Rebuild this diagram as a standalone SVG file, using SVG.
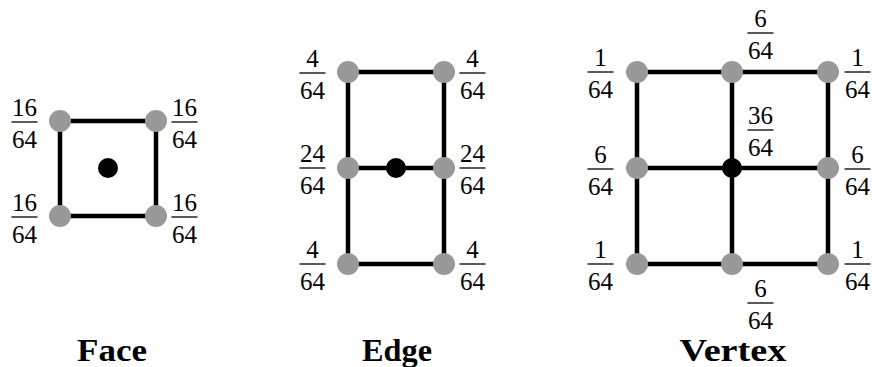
<svg xmlns="http://www.w3.org/2000/svg" width="872" height="367" viewBox="0 0 872 367">
<style>
.e{stroke:#000;stroke-width:4.5;fill:none}
.g{fill:#999}
.b{fill:#000}
.n{font-family:"Liberation Serif",serif;font-size:25px;text-anchor:middle;fill:#000}
.bar{stroke:#000;stroke-width:1.3}
.lbl{font-family:"Liberation Serif",serif;font-size:31px;font-weight:bold;text-anchor:middle;fill:#000}
</style>
<defs>
<g id="frac64"><line class="bar" x1="-13" y1="0" x2="13" y2="0"/><text class="n" x="0" y="26">64</text></g>
</defs>
<g id="connectors">
<rect class="e" x="60" y="121" width="96" height="95"/>
<rect class="e" x="348" y="72" width="96" height="192"/>
<line class="e" x1="348" y1="168" x2="444" y2="168"/>
<rect class="e" x="637" y="72" width="191" height="192"/>
<line class="e" x1="637" y1="168" x2="828" y2="168"/>
<line class="e" x1="732" y1="72" x2="732" y2="264"/>
</g>
<g id="face">
<circle class="g" cx="60" cy="121" r="11"/>
<circle class="g" cx="156" cy="121" r="11"/>
<circle class="g" cx="60" cy="216" r="11"/>
<circle class="g" cx="156" cy="216" r="11"/>
<circle class="b" cx="108" cy="168" r="10"/>
<g transform="translate(24.5,122)"><text class="n" x="0" y="-6">16</text><use href="#frac64"/></g>
<g transform="translate(184.5,122)"><text class="n" x="0" y="-6">16</text><use href="#frac64"/></g>
<g transform="translate(24.5,217)"><text class="n" x="0" y="-6">16</text><use href="#frac64"/></g>
<g transform="translate(184.5,217)"><text class="n" x="0" y="-6">16</text><use href="#frac64"/></g>
<text class="lbl" x="112" y="361" textLength="70" lengthAdjust="spacingAndGlyphs">Face</text>
</g>
<g id="edge">
<circle class="g" cx="348" cy="72" r="11"/>
<circle class="g" cx="444" cy="72" r="11"/>
<circle class="g" cx="348" cy="168" r="11"/>
<circle class="g" cx="444" cy="168" r="11"/>
<circle class="g" cx="348" cy="264" r="11"/>
<circle class="g" cx="444" cy="264" r="11"/>
<circle class="b" cx="396" cy="168" r="10"/>
<g transform="translate(312.5,73)"><text class="n" x="0" y="-6">4</text><use href="#frac64"/></g>
<g transform="translate(472.5,73)"><text class="n" x="0" y="-6">4</text><use href="#frac64"/></g>
<g transform="translate(312.5,168)"><text class="n" x="0" y="-6">24</text><use href="#frac64"/></g>
<g transform="translate(472.5,168)"><text class="n" x="0" y="-6">24</text><use href="#frac64"/></g>
<g transform="translate(312.5,264)"><text class="n" x="0" y="-6">4</text><use href="#frac64"/></g>
<g transform="translate(472.5,264)"><text class="n" x="0" y="-6">4</text><use href="#frac64"/></g>
<text class="lbl" x="397" y="361" textLength="70" lengthAdjust="spacingAndGlyphs">Edge</text>
</g>
<g id="vertex">
<circle class="g" cx="637" cy="72" r="11"/>
<circle class="g" cx="732" cy="72" r="11"/>
<circle class="g" cx="828" cy="72" r="11"/>
<circle class="g" cx="637" cy="168" r="11"/>
<circle class="g" cx="828" cy="168" r="11"/>
<circle class="g" cx="637" cy="264" r="11"/>
<circle class="g" cx="732" cy="264" r="11"/>
<circle class="g" cx="828" cy="264" r="11"/>
<circle class="b" cx="732" cy="168" r="10"/>
<g transform="translate(600.5,72)"><text class="n" x="0" y="-6">1</text><use href="#frac64"/></g>
<g transform="translate(857.5,72)"><text class="n" x="0" y="-6">1</text><use href="#frac64"/></g>
<g transform="translate(760.5,33)"><text class="n" x="0" y="-6">6</text><use href="#frac64"/></g>
<g transform="translate(760.5,130)"><text class="n" x="0" y="-6">36</text><use href="#frac64"/></g>
<g transform="translate(600.5,169)"><text class="n" x="0" y="-6">6</text><use href="#frac64"/></g>
<g transform="translate(857.5,169)"><text class="n" x="0" y="-6">6</text><use href="#frac64"/></g>
<g transform="translate(600.5,264)"><text class="n" x="0" y="-6">1</text><use href="#frac64"/></g>
<g transform="translate(857.5,264)"><text class="n" x="0" y="-6">1</text><use href="#frac64"/></g>
<g transform="translate(760.5,303)"><text class="n" x="0" y="-6">6</text><use href="#frac64"/></g>
<text class="lbl" x="733" y="361" textLength="107" lengthAdjust="spacingAndGlyphs">Vertex</text>
</g>
</svg>
